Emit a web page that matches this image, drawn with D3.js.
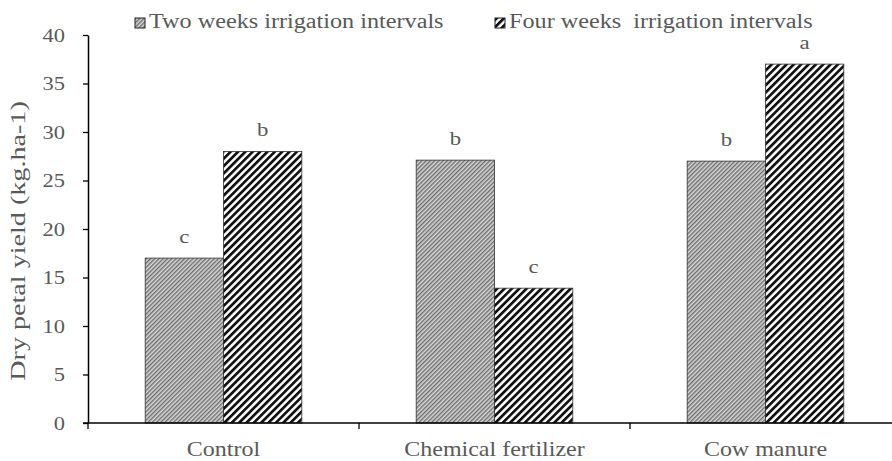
<!DOCTYPE html>
<html>
<head>
<meta charset="utf-8">
<script src="https://cdn.jsdelivr.net/npm/d3@7"></script>
<style>
  body { margin: 0; background: #fff; }
  text { font-family: "Liberation Serif", "Times New Roman", serif; fill: #595959; }
</style>
</head>
<body>
<svg id="chart" width="892" height="461"></svg>
<script>
// chart data
const categories = ['Control', 'Chemical fertilizer', 'Cow manure'];
const seriesNames = ['Two weeks irrigation intervals', 'Four weeks  irrigation intervals'];
const twoWeeks = [17, 27.1, 27];
const fourWeeks = [28, 13.9, 37];
const twoLetters = ['c', 'b', 'b'];
const fourLetters = ['b', 'c', 'a'];
const yTicks = [0, 5, 10, 15, 20, 25, 30, 35, 40];

const svg = d3.select('#chart');
const defs = svg.append('defs');

// fine grey hatch for two weeks
const p1 = defs.append('pattern')
  .attr('id', 'hatchFine')
  .attr('patternUnits', 'userSpaceOnUse')
  .attr('width', 3).attr('height', 3)
  .attr('patternTransform', 'rotate(45)');
p1.append('rect').attr('width', 3).attr('height', 3).attr('fill', '#d6d6d6');
p1.append('rect').attr('width', 1.4).attr('height', 3).attr('fill', '#6e6e6e');

// wide black stripes for four weeks
const p2 = defs.append('pattern')
  .attr('id', 'hatchWide')
  .attr('patternUnits', 'userSpaceOnUse')
  .attr('width', 5.2).attr('height', 5.2)
  .attr('patternTransform', 'rotate(45)');
p2.append('rect').attr('width', 5.2).attr('height', 5.2).attr('fill', '#fff');
p2.append('rect').attr('width', 2.7).attr('height', 5.2).attr('fill', '#111');

const fills = ['url(#hatchFine)', 'url(#hatchWide)'];

// text in the source is wider than Liberation Serif, stretch it a bit
function stretched(sel, x, y, sx, rot) {
  sel.attr('transform', `translate(${x},${y})${rot ? ' rotate(' + rot + ')' : ''} scale(${sx},1)`);
}

// scales
const x = d3.scaleBand().domain(categories).range([88, 901]).paddingInner(0).paddingOuter(0);
const y = d3.scaleLinear().domain([0, 40]).range([423, 35]);
const groupWidth = x.bandwidth() * 0.578;
const xs = d3.scaleBand().domain([0, 1]).range([0, groupWidth]);

const rows = categories.map((c, i) => ({
  cat: c,
  vals: [twoWeeks[i], fourWeeks[i]],
  letters: [twoLetters[i], fourLetters[i]]
}));

// bars
const group = svg.append('g').selectAll('g.grp').data(rows).join('g')
  .attr('class', 'grp')
  .attr('transform', d => `translate(${x(d.cat) + (x.bandwidth() - groupWidth) / 2},0)`);

group.selectAll('rect').data(d => d.vals).join('rect')
  .attr('x', (d, j) => xs(j))
  .attr('width', xs.bandwidth())
  .attr('y', d => y(d))
  .attr('height', d => y(0) - y(d))
  .attr('fill', (d, j) => fills[j])
  .attr('stroke', '#333')
  .attr('stroke-width', 0.8);

group.selectAll('text.letter').data(d => d.vals.map((v, j) => ({v, j, l: d.letters[j]}))).join('text')
  .attr('class', 'letter')
  .attr('text-anchor', 'middle')
  .attr('font-size', 19)
  .each(function (d) {
    stretched(d3.select(this), xs(d.j) + xs.bandwidth() / 2, y(d.v) - 15, 1.2);
  })
  .text(d => d.l);

// y axis
const yAxis = svg.append('g')
  .attr('transform', 'translate(88,0)')
  .call(d3.axisLeft(y).tickValues(yTicks).tickSize(5).tickSizeOuter(0));
yAxis.select('.domain').attr('stroke', '#000').attr('stroke-width', 1.5);
yAxis.selectAll('.tick line').attr('stroke', '#000').attr('stroke-width', 1.3);
yAxis.selectAll('.tick text')
  .attr('x', null).attr('dy', null)
  .attr('font-size', 18)
  .attr('font-family', '"Liberation Serif", serif')
  .attr('fill', '#595959')
  .each(function () { stretched(d3.select(this), -23, 6, 1.25); });

// x axis: line plus ticks at band boundaries
const xAxisG = svg.append('g');
xAxisG.append('line')
  .attr('x1', 83).attr('x2', 901)
  .attr('y1', y(0)).attr('y2', y(0))
  .attr('stroke', '#000').attr('stroke-width', 1.5);
xAxisG.selectAll('line.tick').data(categories).join('line')
  .attr('class', 'tick')
  .attr('x1', d => x(d)).attr('x2', d => x(d))
  .attr('y1', y(0)).attr('y2', y(0) + 6)
  .attr('stroke', '#000').attr('stroke-width', 1.3);
xAxisG.selectAll('text').data(categories).join('text')
  .attr('text-anchor', 'middle')
  .attr('font-size', 20)
  .each(function (d) {
    stretched(d3.select(this), x(d) + x.bandwidth() / 2, 456, 1.2);
  })
  .text(d => d);

// y title
svg.append('text')
  .attr('text-anchor', 'middle')
  .attr('font-size', 21)
  .call(stretched, 25, 241, 1.34, -90)
  .text('Dry petal yield (kg.ha-1)');

// legend
const legendX = [135, 495];
const legend = svg.append('g').selectAll('g').data(seriesNames).join('g')
  .attr('transform', (d, i) => `translate(${legendX[i]},18)`);
legend.append('rect')
  .attr('width', 10).attr('height', 10)
  .attr('fill', (d, i) => fills[i])
  .attr('stroke', '#222').attr('stroke-width', 1);
legend.append('text')
  .attr('font-size', 20)
  .attr('xml:space', 'preserve')
  .style('white-space', 'pre')
  .each(function () { stretched(d3.select(this), 14, 10, 1.21); })
  .text(d => d);
</script>
</body>
</html>
